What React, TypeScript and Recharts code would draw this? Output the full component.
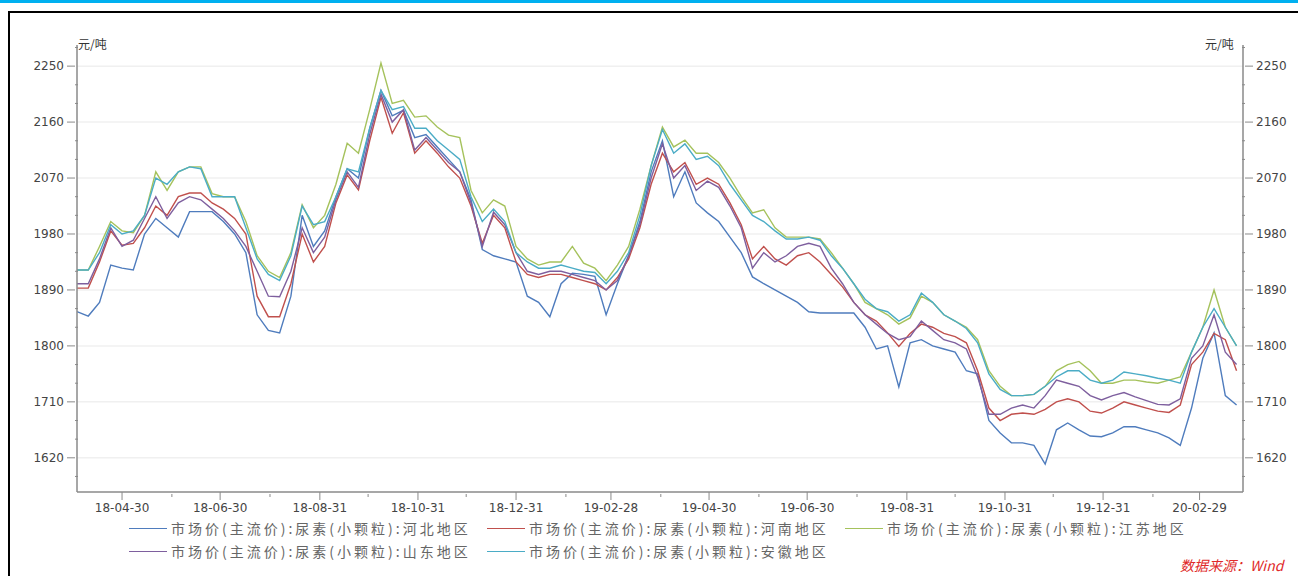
import React from 'react';
import { LineChart, Line, XAxis, YAxis, ReferenceLine } from 'recharts';

// weekly samples, first one on 2018-04-02
const START = '2018-04-02';
const END = '2020-03-27';

const monthEnds = [
  '2018-04-30', '2018-05-31', '2018-06-30', '2018-07-31', '2018-08-31', '2018-09-30',
  '2018-10-31', '2018-11-30', '2018-12-31', '2019-01-31', '2019-02-28', '2019-03-31',
  '2019-04-30', '2019-05-31', '2019-06-30', '2019-07-31', '2019-08-31', '2019-09-30',
  '2019-10-31', '2019-11-30', '2019-12-31', '2020-01-31', '2020-02-29',
];

const yTicks = [1590, 1620, 1650, 1680, 1710, 1740, 1770, 1800, 1830, 1860, 1890, 1920, 1950, 1980,
  2010, 2040, 2070, 2100, 2130, 2160, 2190, 2220, 2250, 2280];
const yMajor = [1620, 1710, 1800, 1890, 1980, 2070, 2160, 2250];

const seriesNames = [
  '市场价(主流价):尿素(小颗粒):河北地区',
  '市场价(主流价):尿素(小颗粒):河南地区',
  '市场价(主流价):尿素(小颗粒):江苏地区',
  '市场价(主流价):尿素(小颗粒):山东地区',
  '市场价(主流价):尿素(小颗粒):安徽地区',
];
const seriesKeys = ['hebei', 'henan', 'jiangsu', 'shandong', 'anhui'];
const seriesColors = ['#4f7cbd', '#c0504d', '#a5c25c', '#7e5f9e', '#4bacc6'];

const hebei = [
  1855, 1848, 1870, 1930, 1925, 1922, 1980, 2005, 1990, 1975,
  2016, 2016, 2016, 2000, 1980, 1950, 1850, 1825, 1821, 1880,
  2010, 1960, 1985, 2040, 2085, 2070, 2150, 2211, 2170, 2179,
  2135, 2140, 2120, 2100, 2080, 2035, 1955, 1945, 1940, 1935,
  1880, 1870, 1847, 1900, 1917, 1915, 1912, 1850, 1900, 1945,
  2000, 2080, 2130, 2040, 2080, 2030, 2014, 2000, 1975, 1950,
  1911, 1900, 1890, 1880, 1870, 1855, 1853, 1853, 1853, 1853,
  1830, 1795, 1800, 1734, 1805, 1810, 1800, 1795, 1790, 1760,
  1755, 1680, 1660, 1644, 1644, 1640, 1610, 1665, 1676, 1665,
  1655, 1654, 1660, 1670, 1670, 1665, 1660, 1652, 1640, 1700,
  1780, 1821, 1720, 1705,
];
const henan = [
  1893, 1893, 1935, 1985, 1962, 1965, 1990, 2025, 2010, 2040,
  2046, 2046, 2030, 2020, 2005, 1980, 1880, 1847, 1847, 1900,
  1980, 1935, 1960, 2030, 2075, 2051, 2130, 2200, 2142, 2175,
  2110, 2130, 2110, 2088, 2070, 2025, 1965, 2010, 1990, 1935,
  1915, 1910, 1915, 1915, 1910, 1905, 1900, 1890, 1910, 1940,
  1990, 2060, 2110, 2080, 2095, 2060, 2070, 2060, 2030, 1995,
  1940, 1960, 1940, 1930, 1945, 1950, 1935, 1915, 1895, 1870,
  1850, 1840, 1821, 1799, 1820, 1835, 1830, 1820, 1815, 1805,
  1760, 1700, 1680, 1690, 1692, 1690, 1698, 1710, 1715, 1710,
  1695, 1692, 1700, 1710, 1705, 1700, 1695, 1693, 1705, 1770,
  1790, 1820, 1810, 1760,
];
const jiangsu = [
  1922, 1922, 1960, 2000, 1985, 1982, 2010, 2080, 2050, 2080,
  2088, 2088, 2045, 2040, 2040, 2000, 1945, 1920, 1910, 1950,
  2027, 1990, 2010, 2060, 2126, 2110, 2180, 2255, 2190, 2195,
  2168, 2170, 2152, 2139, 2135, 2050, 2014, 2035, 2025, 1960,
  1940, 1930, 1935, 1935, 1960, 1933, 1925, 1905, 1930, 1960,
  2020, 2090, 2152, 2120, 2131, 2110, 2110, 2095, 2070, 2040,
  2014, 2019, 1990, 1975, 1975, 1975, 1972, 1950, 1925, 1900,
  1870, 1860, 1850, 1835, 1845, 1880, 1870, 1850, 1840, 1830,
  1810, 1760, 1735, 1720, 1720, 1722, 1735, 1760, 1770, 1775,
  1760, 1740, 1740, 1745, 1745, 1742, 1740, 1745, 1750, 1790,
  1830, 1890, 1830, 1800,
];
const shandong = [
  1900, 1900, 1940, 1990, 1960, 1970, 2005, 2040, 2005, 2030,
  2040, 2035, 2020, 2005, 1985, 1960, 1920, 1880, 1879, 1920,
  1990, 1950, 1975, 2035, 2080, 2055, 2140, 2205, 2160, 2180,
  2115, 2135, 2115, 2095, 2080, 2030, 1960, 2015, 1995, 1950,
  1920, 1915, 1920, 1920, 1915, 1910, 1905, 1890, 1905, 1945,
  1995, 2070, 2125, 2070, 2090, 2050, 2065, 2055, 2025, 1990,
  1925, 1950, 1935, 1945, 1960, 1965, 1960, 1925, 1900, 1870,
  1850, 1835, 1820, 1810, 1815, 1840, 1825, 1810, 1805, 1795,
  1750, 1690, 1690, 1700, 1705, 1700, 1720, 1745, 1740, 1735,
  1720, 1713, 1720, 1725, 1718, 1712, 1706, 1705, 1715, 1780,
  1800, 1850, 1790, 1770,
];
const anhui = [
  1922, 1922, 1950, 1995, 1980, 1985, 2010, 2070, 2060, 2080,
  2088, 2085, 2040, 2040, 2040, 1990, 1940, 1915, 1905, 1945,
  2025, 1995, 2000, 2040, 2085, 2080, 2150, 2211, 2180, 2185,
  2150, 2150, 2130, 2115, 2100, 2040, 2000, 2020, 2000, 1950,
  1935, 1925, 1925, 1930, 1925, 1920, 1918, 1900, 1920, 1950,
  2010, 2090, 2148, 2110, 2125, 2100, 2105, 2090, 2060, 2035,
  2010, 2000, 1985, 1972, 1972, 1975, 1970, 1945, 1925, 1900,
  1875, 1860, 1855, 1840, 1850, 1885, 1870, 1850, 1840, 1828,
  1805, 1755, 1730, 1720, 1720, 1722, 1735, 1750, 1760, 1760,
  1745, 1740, 1745, 1758, 1755, 1752, 1748, 1745, 1740, 1790,
  1830, 1860, 1830, 1800,
];

const DAY = 86400000;
const t0 = new Date(START).getTime();
const tEnd = new Date(END).getTime();
const xTicks = monthEnds.map((d) => new Date(d).getTime());
const xLabeled = monthEnds.filter((_, i) => i % 2 === 0).map((d) => new Date(d).getTime());

const data = hebei.map((v, i) => ({
  t: t0 + i * 7 * DAY,
  hebei: v,
  henan: henan[i],
  jiangsu: jiangsu[i],
  shandong: shandong[i],
  anhui: anhui[i],
}));

const fmtDate = (t: number) => {
  const d = new Date(t);
  const p = (n: number) => String(n).padStart(2, '0');
  return `${p(d.getUTCFullYear() % 100)}-${p(d.getUTCMonth() + 1)}-${p(d.getUTCDate())}`;
};

const tickFont = { fontFamily: 'DejaVu Sans', fontSize: 12, fill: '#444' };
const axisColor = '#8a8a8a';

const XTick = ({ x, y, payload }: any) => {
  const major = xLabeled.includes(payload.value);
  if (!major) return <line x1={x} x2={x} y1={y} y2={y + 3} stroke={axisColor} />;
  return (
    <g>
      <line x1={x} x2={x} y1={y - 2} y2={y + 6} stroke={axisColor} />
      <text x={x} y={y + 18} textAnchor="middle" {...tickFont}>{fmtDate(payload.value)}</text>
    </g>
  );
};

const YTick = ({ x, y, payload, side }: any) => {
  const major = yMajor.includes(payload.value);
  const dir = side === 'left' ? -1 : 1;
  if (!major) return <line x1={x} x2={x - dir * 3} y1={y} y2={y} stroke={axisColor} />;
  return (
    <g>
      <line x1={x} x2={x + dir * 8} y1={y} y2={y} stroke={axisColor} />
      <text x={x + dir * 11} y={y + 4} textAnchor={side === 'left' ? 'end' : 'start'} {...tickFont}>
        {payload.value}
      </text>
    </g>
  );
};

const legendCols = [129, 487, 845];
const legendRows = [528, 551];

const App = () => {
  return (
    <div style={{ position: 'absolute', left: 0, top: 0, width: 1298, height: 576, overflow: 'hidden', background: '#fff' }}>
      <div style={{ position: 'absolute', left: 0, top: 0, width: 1298, height: 3, background: '#00b0f0' }} />
      <div style={{ position: 'absolute', left: 8, top: 11, width: 1320, height: 620, border: '2px solid #000', boxSizing: 'border-box' }} />

      <LineChart
        width={1298}
        height={576}
        data={data}
        margin={{ top: 45, right: 0, bottom: 54, left: 0 }}
        style={{ position: 'absolute', left: 0, top: 0 }}
      >
        {yMajor.map((v) => (
          <ReferenceLine key={v} y={v} yAxisId="left" stroke="#f0f0f0" strokeWidth={1.5} />
        ))}
        <XAxis
          dataKey="t"
          type="number"
          domain={[t0, tEnd]}
          ticks={xTicks}
          interval={0}
          height={30}
          tickSize={0}
          tickLine={false}
          axisLine={{ stroke: axisColor, strokeWidth: 1.5 }}
          tick={(p: any) => <XTick {...p} />}
        />
        <YAxis
          yAxisId="left"
          orientation="left"
          width={77}
          domain={[1565, 2284]}
          ticks={yTicks}
          interval={0}
          tickSize={0}
          tickLine={false}
          allowDataOverflow
          axisLine={{ stroke: axisColor, strokeWidth: 1.5 }}
          tick={(p: any) => <YTick {...p} side="left" />}
        />
        <YAxis
          yAxisId="right"
          orientation="right"
          width={55}
          domain={[1565, 2284]}
          ticks={yTicks}
          interval={0}
          tickSize={0}
          tickLine={false}
          allowDataOverflow
          axisLine={{ stroke: axisColor, strokeWidth: 1.5 }}
          tick={(p: any) => <YTick {...p} side="right" />}
        />
        {seriesKeys.map((k, i) => (
          <Line
            key={k}
            yAxisId="left"
            dataKey={k}
            name={seriesNames[i]}
            stroke={seriesColors[i]}
            strokeWidth={1.4}
            dot={false}
            type="linear"
            isAnimationActive={false}
          />
        ))}
      </LineChart>

      <div style={{ position: 'absolute', left: 78, top: 35, font: '12px "Noto Sans CJK SC"', color: '#333' }}>元/吨</div>
      <div style={{ position: 'absolute', left: 1205, top: 35, font: '12px "Noto Sans CJK SC"', color: '#333' }}>元/吨</div>

      {seriesNames.map((name, i) => (
        <div
          key={name}
          style={{
            position: 'absolute',
            left: legendCols[i % 3],
            top: legendRows[Math.floor(i / 3)] - 9,
            height: 18,
            display: 'flex',
            alignItems: 'center',
            whiteSpace: 'nowrap',
            font: '14px "Noto Sans CJK SC"',
            letterSpacing: 3,
            color: '#666',
          }}
        >
          <span style={{ display: 'inline-block', width: 38, borderTop: `1.6px solid ${seriesColors[i]}`, marginRight: 4 }} />
          {name}
        </div>
      ))}

      <div style={{ position: 'absolute', left: 1180, top: 557, font: 'italic 14px/16px "Noto Sans CJK SC"', color: '#e02a2a' }}>
        数据来源：Wind
      </div>
    </div>
  );
};

export default App;
